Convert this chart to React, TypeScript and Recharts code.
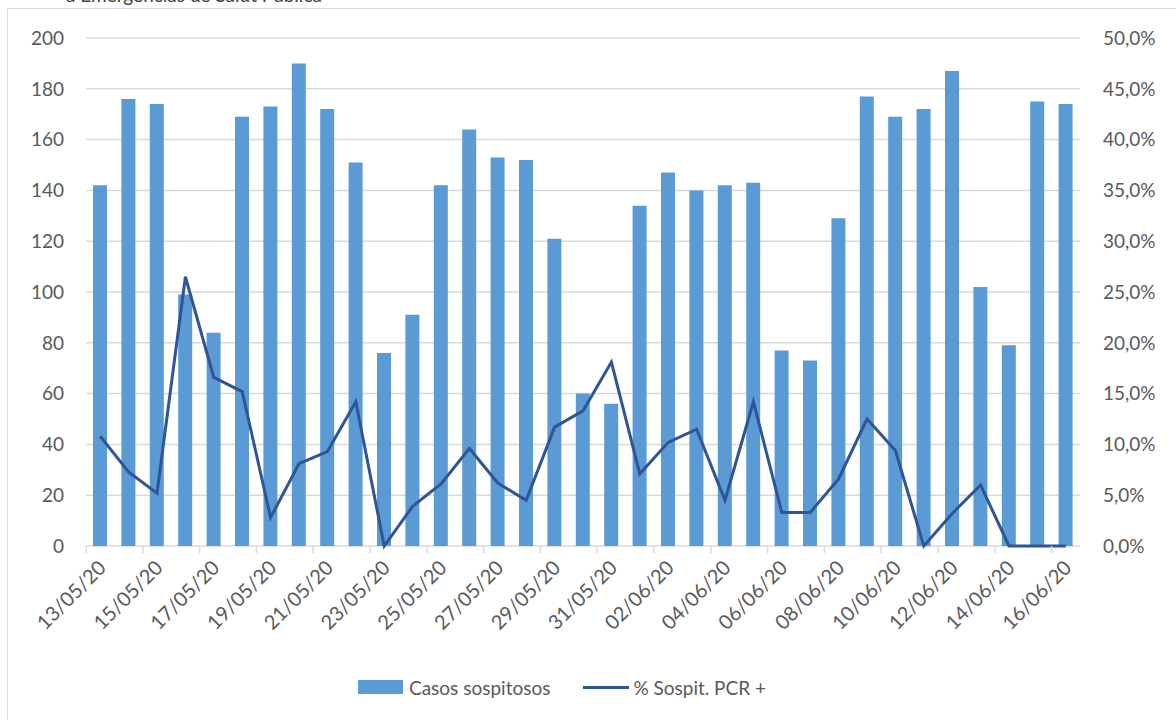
import {ComposedChart, Bar, Line, XAxis, YAxis, CartesianGrid, Legend} from 'recharts';

const dates = [
  '13/05/20', '14/05/20', '15/05/20', '16/05/20', '17/05/20', '18/05/20', '19/05/20',
  '20/05/20', '21/05/20', '22/05/20', '23/05/20', '24/05/20', '25/05/20', '26/05/20',
  '27/05/20', '28/05/20', '29/05/20', '30/05/20', '31/05/20', '01/06/20', '02/06/20',
  '03/06/20', '04/06/20', '05/06/20', '06/06/20', '07/06/20', '08/06/20', '09/06/20',
  '10/06/20', '11/06/20', '12/06/20', '13/06/20', '14/06/20', '15/06/20', '16/06/20',
];

const casos = [
  142, 176, 174, 99, 84, 169, 173, 190, 172, 151, 76, 91, 142, 164, 153, 152, 121, 60,
  56, 134, 147, 140, 142, 143, 77, 73, 129, 177, 169, 172, 187, 102, 79, 175, 174,
];

const pctPcr = [
  10.8, 7.3, 5.2, 26.5, 16.6, 15.2, 2.8, 8.1, 9.3, 14.2, 0, 3.9, 6.1, 9.6, 6.2, 4.5, 11.7,
  13.3, 18.1, 7.1, 10.2, 11.5, 4.5, 14.2, 3.3, 3.3, 6.6, 12.5, 9.4, 0, 3.2, 6.0, 0, 0, 0,
];

const leftTicks = [0, 20, 40, 60, 80, 100, 120, 140, 160, 180, 200];
const rightTicks = [0, 5, 10, 15, 20, 25, 30, 35, 40, 45, 50];

const BAR_COLOR = '#5B9BD5';
const LINE_COLOR = '#2F5597';
const GRID = '#D9D9D9';
const TEXT = '#595959';
const FONT = 'Lato, "Open Sans", sans-serif';

const W = 1176;
const H = 720;
const PLOT_LEFT = 86;
const PLOT_RIGHT = 1080;
const BAND = (PLOT_RIGHT - PLOT_LEFT) / dates.length;

const data = dates.map((d, i) => ({date: d, casos: casos[i], pct: pctPcr[i]}));

const fmtPct = (v: number) => v.toFixed(1).replace('.', ',') + '%';

// tick mark sits on the category boundary (Excel style), label under the bar
function DateTick(props: any) {
  const {x, y, payload} = props;
  const bx = x - BAND / 2;
  const tx = x + 7;
  const ty = y + 17;
  return (
    <g>
      <line x1={bx} x2={bx} y1={y - 6} y2={y + 1} stroke={GRID} strokeWidth={1.5} />
      <text
        x={tx}
        y={ty}
        textAnchor="end"
        fill={TEXT}
        fontSize={20}
        fontFamily={FONT}
        transform={`rotate(-45, ${tx}, ${ty})`}
      >
        {payload.value}
      </text>
    </g>
  );
}

function LegendBox() {
  return (
    <div
      style={{
        height: 34,
        display: 'flex',
        alignItems: 'center',
        justifyContent: 'center',
        paddingRight: 52,
        fontFamily: FONT,
        fontSize: 19,
        color: TEXT,
      }}
    >
      <span style={{display: 'inline-block', width: 45, height: 14, background: BAR_COLOR, marginRight: 6}} />
      <span style={{marginRight: 33}}>Casos sospitosos</span>
      <span style={{display: 'inline-block', width: 46, height: 3, background: LINE_COLOR, marginRight: 4}} />
      <span>% Sospit. PCR +</span>
    </div>
  );
}

export default function App() {
  return (
    <div style={{position: 'fixed', left: 0, top: 0, width: W, height: H, overflow: 'hidden', background: '#fff'}}>
      <div
        style={{
          position: 'absolute',
          left: 66,
          top: -17,
          fontFamily: FONT,
          fontSize: 19,
          color: '#404040',
          whiteSpace: 'nowrap',
        }}
      >
        a Emergencias de Salut Pública
      </div>
      <div style={{position: 'absolute', left: 7, top: 8, width: W + 20, height: H + 20, border: `1px solid ${GRID}`}} />
      <div style={{position: 'absolute', left: 0, top: 0}}>
        <ComposedChart
          width={W}
          height={H}
          data={data}
          margin={{top: 38, right: 0, bottom: 16, left: 0}}
        >
          <CartesianGrid yAxisId="left" vertical={false} stroke={GRID} strokeWidth={1.5} />
          <XAxis
            dataKey="date"
            interval={1}
            height={124}
            tick={DateTick}
            tickLine={false}
            tickMargin={0}
            axisLine={false}
          />
          <YAxis
            yAxisId="left"
            orientation="left"
            width={PLOT_LEFT}
            domain={[0, 200]}
            ticks={leftTicks}
            axisLine={false}
            tickLine={false}
            tickMargin={16}
            tick={{fill: TEXT, fontSize: 19, fontFamily: FONT}}
          />
          <YAxis
            yAxisId="right"
            orientation="right"
            width={W - PLOT_RIGHT}
            domain={[0, 50]}
            ticks={rightTicks}
            tickFormatter={fmtPct}
            axisLine={false}
            tickLine={false}
            tickMargin={17}
            tick={{fill: TEXT, fontSize: 19, fontFamily: FONT, textAnchor: 'start'}}
          />
          <Bar
            yAxisId="left"
            dataKey="casos"
            name="Casos sospitosos"
            fill={BAR_COLOR}
            barSize={14}
            isAnimationActive={false}
          />
          <Line
            yAxisId="right"
            type="linear"
            dataKey="pct"
            name="% Sospit. PCR +"
            stroke={LINE_COLOR}
            strokeWidth={3}
            dot={false}
            activeDot={false}
            isAnimationActive={false}
          />
          <Legend verticalAlign="bottom" content={LegendBox} />
        </ComposedChart>
      </div>
    </div>
  );
}
